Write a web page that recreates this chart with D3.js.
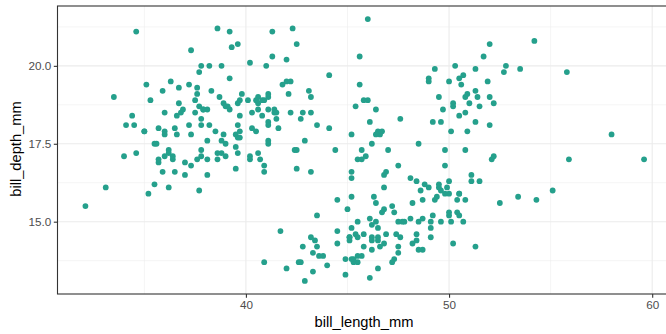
<!DOCTYPE html>
<html>
<head>
<meta charset="utf-8">
<script src="https://cdn.jsdelivr.net/npm/d3@7"></script>
<style>
  body { margin: 0; background: #fff; }
  svg { display: block; font-family: "Liberation Sans", Arial, sans-serif; }
</style>
</head>
<body>
<div id="chart"></div>
<script>
// bill length / depth (mm), grouped by cluster
const adelieLength = [39.1,39.5,40.3,36.7,39.3,38.9,39.2,34.1,42.0,37.8,37.8,41.1,38.6,34.6,36.6,38.7,42.5,34.4,46.0,37.8,37.7,35.9,38.2,38.8,35.3,40.6,40.5,37.9,40.5,39.5,37.2,39.5,40.9,36.4,39.2,38.8,42.2,37.6,39.8,36.5,40.8,36.0,44.1,37.0,39.6,41.1,37.5,36.0,42.3,39.6,40.1,35.0,42.0,34.5,41.4,39.0,40.6,36.5,37.6,35.7,41.3,37.6,41.1,36.4,41.6,35.5,41.1,35.9,41.8,33.5,39.7,39.6,45.8,35.5,42.8,40.9,37.2,36.2,42.1,34.6,42.9,36.7,35.1,37.3,41.3,36.3,36.9,38.3,38.9,35.7,41.1,34.0,39.6,36.2,40.8,38.1,40.3,33.1,43.2,35.0,41.0,37.7,37.8,37.9,39.7,38.6,38.2,38.1,43.2,38.1,45.6,39.7,42.2,39.6,42.7,38.6,37.3,35.7,41.1,36.2,37.7,40.2,41.4,35.2,40.6,38.8,41.5,39.0,44.1,38.5,43.1,36.8,37.5,38.1,41.1,35.6,40.2,37.0,39.7,40.2,40.6,32.1,40.7,37.3,39.0,39.2,36.6,36.0,37.8,36.0,41.5];
const adelieDepth = [18.7,17.4,18.0,19.3,20.6,17.8,19.6,18.1,20.2,17.1,17.3,17.6,21.2,21.1,17.8,19.0,20.7,18.4,21.5,18.3,18.7,19.2,18.1,17.2,18.9,18.6,17.9,18.6,18.9,16.7,18.1,17.8,18.9,17.0,21.1,20.0,18.5,19.3,19.1,18.0,18.4,18.5,19.7,16.9,18.8,19.0,18.9,17.9,21.2,17.7,18.9,17.9,19.5,18.1,18.6,17.5,18.8,16.6,19.1,16.9,21.1,17.0,18.2,17.1,18.0,16.2,19.1,16.6,19.4,19.0,18.4,17.2,18.9,17.5,18.5,16.8,19.4,16.1,19.1,17.2,17.6,18.8,19.4,17.8,20.3,19.5,18.6,19.2,18.8,18.0,18.1,17.1,18.1,17.3,18.9,18.6,18.5,16.1,18.5,17.9,20.0,16.0,20.0,18.6,18.9,17.2,20.0,17.0,19.0,16.5,20.3,17.7,19.5,20.7,18.3,17.0,20.5,17.0,18.6,17.2,19.8,17.0,18.5,15.9,19.0,17.6,18.3,17.1,18.0,17.9,19.2,18.5,18.5,17.6,17.5,17.5,20.1,16.5,17.9,17.1,17.2,15.5,17.0,16.8,18.7,18.6,18.4,17.8,18.1,17.1,18.5];

const gentooLength = [46.1,50.0,48.7,50.0,47.6,46.5,45.4,46.7,43.3,46.8,40.9,49.0,45.5,48.4,45.8,49.3,42.0,49.2,46.2,48.7,50.2,45.1,46.5,46.3,42.9,46.1,44.5,47.8,48.2,50.0,47.3,42.8,45.1,59.6,49.1,48.4,42.6,44.4,44.0,48.7,42.7,49.6,45.3,49.6,50.5,43.6,45.5,50.5,44.9,45.2,46.6,48.5,45.1,50.1,46.5,45.0,43.8,45.5,43.2,50.4,45.3,46.2,45.7,54.3,45.8,49.8,46.2,49.5,43.5,50.7,47.7,46.4,48.2,46.5,46.4,48.6,47.5,51.1,45.2,45.2,49.1,52.5,47.4,50.0,44.9,50.8,43.4,51.3,47.5,52.1,47.5,52.2,45.5,49.5,44.5,50.8,49.4,46.9,48.4,51.1,48.5,55.9,47.2,49.1,47.3,46.8,41.7,53.4,43.3,48.1,50.5,49.8,43.5,51.5,46.2,55.1,44.5,48.8,47.2,46.8,50.4,45.2,49.9];
const gentooDepth = [13.2,16.3,14.1,15.2,14.5,13.5,14.6,15.3,13.4,15.4,13.7,16.1,13.7,14.6,14.6,15.7,13.5,15.2,14.5,15.1,14.3,14.5,14.5,15.8,13.1,15.1,14.3,15.0,14.3,15.3,15.3,14.2,14.5,17.0,14.8,16.3,13.7,17.3,13.6,15.7,13.7,16.0,13.7,15.0,15.9,13.9,13.9,15.9,13.3,15.8,14.2,14.1,14.4,15.0,14.4,15.4,13.9,15.0,14.5,15.3,13.8,14.9,13.9,15.7,14.2,16.8,14.4,16.2,14.2,15.0,15.0,15.6,15.6,14.8,15.0,16.0,14.2,16.3,13.8,16.4,14.5,15.6,14.6,15.9,13.8,17.3,14.4,14.2,14.0,17.0,15.0,17.1,14.5,16.1,14.7,15.7,15.8,14.6,14.4,16.5,15.0,17.0,15.5,15.0,13.8,16.1,14.7,15.8,14.0,15.1,15.2,15.9,15.2,16.3,14.1,16.0,15.7,16.2,13.7,14.3,15.7,14.8,16.1];

const chinstrapLength = [46.5,50.0,51.3,45.4,52.7,45.2,46.1,51.3,46.0,51.3,46.6,51.7,47.0,52.0,45.9,50.5,50.3,58.0,46.4,49.2,42.4,48.5,43.2,50.6,46.7,52.0,50.5,49.5,46.4,52.8,40.9,54.2,42.5,51.0,49.7,47.5,47.6,52.0,46.9,53.5,49.0,46.2,50.9,45.5,50.9,50.8,50.1,49.0,51.5,49.8,48.1,51.4,45.7,50.7,42.5,52.2,45.2,49.3,50.2,45.6,51.9,46.8,45.7,55.8,43.5,49.6,50.8,50.2];
const chinstrapDepth = [17.9,19.5,19.2,18.7,19.8,17.8,18.2,18.2,18.9,19.9,17.8,20.3,17.3,18.1,17.1,19.6,20.0,17.8,18.6,18.2,17.3,17.5,16.6,19.4,17.9,19.0,18.4,19.0,17.8,20.0,16.6,20.8,16.7,18.8,18.6,16.8,18.3,20.7,16.6,19.9,19.5,17.5,19.1,17.0,17.9,18.5,17.9,19.6,18.7,17.3,16.4,19.0,17.3,19.7,17.3,18.8,16.6,19.9,18.8,19.4,19.5,16.5,17.0,19.8,18.1,18.2,19.0,18.7];

const xTicks = [40, 50, 60];
const yTicks = [15.0, 17.5, 20.0];
const xMinor = [35, 45, 55];
const yMinor = [13.75, 16.25, 18.75, 21.25];

const points = [];
[[adelieLength, adelieDepth], [gentooLength, gentooDepth], [chinstrapLength, chinstrapDepth]]
  .forEach(([len, dep]) => len.forEach((v, i) => points.push({ x: v, y: dep[i] })));

const W = 666, H = 334;
const margin = { top: 6, right: -6, bottom: 40, left: 57.5 };
const width = W - margin.left - margin.right;
const height = H - margin.top - margin.bottom;

const svg = d3.select('#chart').append('svg')
  .attr('width', W)
  .attr('height', H);

const g = svg.append('g')
  .attr('transform', `translate(${margin.left},${margin.top})`);

// ggplot style 5% expansion
const xExt = d3.extent(points, d => d.x);
const yExt = d3.extent(points, d => d.y);
const xPad = (xExt[1] - xExt[0]) * 0.05;
const yPad = (yExt[1] - yExt[0]) * 0.05;

const x = d3.scaleLinear()
  .domain([xExt[0] - xPad, xExt[1] + xPad])
  .range([0, width]);

const y = d3.scaleLinear()
  .domain([yExt[0] - yPad, yExt[1] + yPad])
  .range([height, 0]);

// grid
g.append('g').selectAll('line.minx').data(xMinor).enter().append('line')
  .attr('x1', d => x(d)).attr('x2', d => x(d))
  .attr('y1', 0).attr('y2', height)
  .attr('stroke', '#ebebeb').attr('stroke-width', 0.55);
g.append('g').selectAll('line.miny').data(yMinor).enter().append('line')
  .attr('y1', d => y(d)).attr('y2', d => y(d))
  .attr('x1', 0).attr('x2', width)
  .attr('stroke', '#ebebeb').attr('stroke-width', 0.55);
g.append('g').selectAll('line.majx').data(xTicks).enter().append('line')
  .attr('x1', d => x(d)).attr('x2', d => x(d))
  .attr('y1', 0).attr('y2', height)
  .attr('stroke', '#ebebeb').attr('stroke-width', 1.1);
g.append('g').selectAll('line.majy').data(yTicks).enter().append('line')
  .attr('y1', d => y(d)).attr('y2', d => y(d))
  .attr('x1', 0).attr('x2', width)
  .attr('stroke', '#ebebeb').attr('stroke-width', 1.1);

// points
g.append('g').selectAll('circle').data(points).enter().append('circle')
  .attr('cx', d => x(d.x))
  .attr('cy', d => y(d.y))
  .attr('r', 2.9)
  .attr('fill', '#25a08c');

// panel border
g.append('rect')
  .attr('width', width).attr('height', height)
  .attr('fill', 'none')
  .attr('stroke', '#333333')
  .attr('stroke-width', 1.1);

// axes
const xAxis = g.append('g')
  .attr('transform', `translate(0,${height})`)
  .call(d3.axisBottom(x).tickValues(xTicks).tickSize(3.7).tickPadding(2.5).tickFormat(d3.format('d')));
const yAxis = g.append('g')
  .call(d3.axisLeft(y).tickValues(yTicks).tickSize(3.7).tickPadding(2.5).tickFormat(d3.format('.1f')));

[xAxis, yAxis].forEach(a => {
  a.select('.domain').remove();
  a.selectAll('line').attr('stroke', '#333333').attr('stroke-width', 1.1);
  a.selectAll('text')
    .attr('fill', '#4d4d4d')
    .style('font-size', '11.7px')
    .style('font-family', '"Liberation Sans", Arial, sans-serif');
});

// axis titles
svg.append('text')
  .attr('x', 364)
  .attr('y', 326.5)
  .attr('text-anchor', 'middle')
  .style('font-size', '14.7px')
  .text('bill_length_mm');

svg.append('text')
  .attr('transform', `translate(20.5,${margin.top + height / 2 - 1}) rotate(-90)`)
  .attr('text-anchor', 'middle')
  .style('font-size', '14.7px')
  .text('bill_depth_mm');
</script>
</body>
</html>
